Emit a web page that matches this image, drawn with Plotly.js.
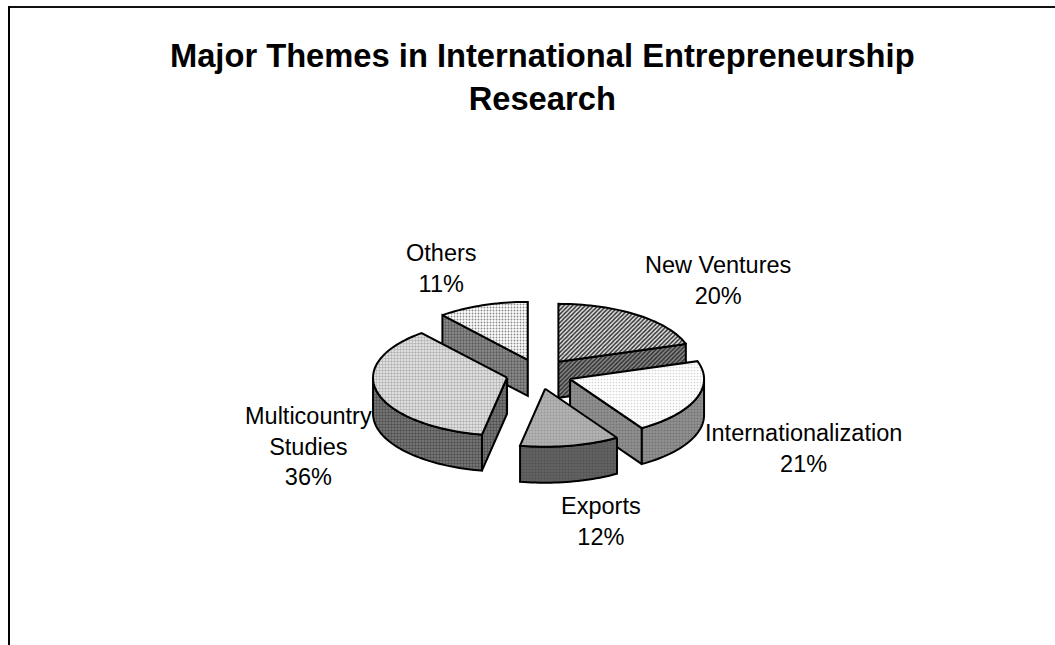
<!DOCTYPE html>
<html>
<head>
<meta charset="utf-8">
<script src="https://cdn.plot.ly/plotly-3.0.1.min.js"></script>
<style>html,body{margin:0;padding:0;background:#fff;overflow:hidden}#chart{width:1055px;height:645px}</style>
</head>
<body>
<div id="chart"></div>
<script>
// Share of research per theme, in percent
const categories = ["New Ventures", "Internationalization", "Exports", "Multicountry Studies", "Others"];
const shares = [20, 21, 12, 36, 11];

// Projection of the tilted disc, in page pixels
const centre = {x: 539, y: 374};
const radiusX = 134, radiusY = 58, depth = 36;
const explodeX = 33, explodeY = 15;

// Fill of each slice: top face and side walls
const topStyle = [
  {shape: "/", bgcolor: "#e8e8e8", fgcolor: "#303030", size: 3, solidity: 0.5},
  {shape: ".", bgcolor: "#ffffff", fgcolor: "#d4d4d4", size: 3, solidity: 0.25},
  {shape: ".", bgcolor: "#b4b4b4", fgcolor: "#9a9a9a", size: 3, solidity: 0.4},
  {shape: ".", bgcolor: "#eeeeee", fgcolor: "#b0b0b0", size: 3, solidity: 0.5},
  {shape: ".", bgcolor: "#ffffff", fgcolor: "#8a8a8a", size: 3, solidity: 0.3}
];
const wallStyle = [
  {shape: "/", bgcolor: "#8c8c8c", fgcolor: "#303030", size: 3, solidity: 0.5},
  {shape: ".", bgcolor: "#929292", fgcolor: "#747474", size: 3, solidity: 0.4},
  {shape: ".", bgcolor: "#646464", fgcolor: "#505050", size: 3, solidity: 0.4},
  {shape: ".", bgcolor: "#808080", fgcolor: "#4e4e4e", size: 3, solidity: 0.5},
  {shape: ".", bgcolor: "#909090", fgcolor: "#5a5a5a", size: 3, solidity: 0.45}
];

// Back slices are painted first so nearer slices overlap them
const paintOrder = [4, 0, 3, 1, 2];

const total = shares.reduce((a, b) => a + b, 0);
let running = 0;
const slices = shares.map((v, i) => {
  const from = running / total * 2 * Math.PI;
  running += v;
  const to = running / total * 2 * Math.PI;
  const mid = (from + to) / 2;
  return {
    i, from, to,
    cx: centre.x + explodeX * Math.sin(mid),
    cy: centre.y - explodeY * Math.cos(mid)
  };
});

function rim(s, a, b, drop) {
  const xs = [], ys = [];
  const steps = Math.max(2, Math.ceil((b - a) / 0.03));
  for (let k = 0; k <= steps; k++) {
    const t = a + (b - a) * k / steps;
    xs.push(s.cx + radiusX * Math.sin(t));
    ys.push(s.cy - radiusY * Math.cos(t) + drop);
  }
  return {xs, ys};
}

function polygon(xs, ys, pattern, name) {
  return {
    type: "scatter", mode: "lines", x: xs, y: ys, name,
    fill: "toself", fillcolor: pattern.bgcolor, fillpattern: pattern,
    line: {color: "#000000", width: 2, simplify: false},
    hoverinfo: "name", showlegend: false
  };
}

function radialWall(s, angle, style, name) {
  const ex = s.cx + radiusX * Math.sin(angle);
  const ey = s.cy - radiusY * Math.cos(angle);
  return polygon(
    [s.cx, ex, ex, s.cx, s.cx],
    [s.cy, ey, ey + depth, s.cy + depth, s.cy],
    style, name
  );
}

const traces = [];
paintOrder.forEach(idx => {
  const s = slices[idx];
  const name = categories[idx];
  const wall = wallStyle[idx];

  // Cut faces are visible only when they turn toward the viewer
  if (-Math.sin(s.from) > 1e-6) traces.push(radialWall(s, s.from, wall, name));
  if (Math.sin(s.to) > 1e-6) traces.push(radialWall(s, s.to, wall, name));

  // Outer wall covers the near half of the disc only
  const a = Math.max(s.from, Math.PI / 2), b = Math.min(s.to, 3 * Math.PI / 2);
  if (b > a) {
    const upper = rim(s, a, b, 0), lower = rim(s, a, b, depth);
    traces.push(polygon(
      upper.xs.concat(lower.xs.slice().reverse(), [upper.xs[0]]),
      upper.ys.concat(lower.ys.slice().reverse(), [upper.ys[0]]),
      wall, name
    ));
  }

  // Top face
  const top = rim(s, s.from, s.to, 0);
  traces.push(polygon(
    [s.cx].concat(top.xs, [s.cx]),
    [s.cy].concat(top.ys, [s.cy]),
    topStyle[idx], name
  ));
});

function sliceLabel(i) {
  const parts = categories[i] === "Multicountry Studies" ? ["Multicountry", "Studies"] : [categories[i]];
  return parts.concat([shares[i] + "%"]).join("<br>");
}

// Label centres on the page
const labelCentres = [[718, 280], [803, 448], [601, 521], [308, 446], [441, 268]];

const layout = {
  width: 1055, height: 645,
  margin: {l: 0, r: 0, t: 0, b: 0},
  paper_bgcolor: "#ffffff", plot_bgcolor: "#ffffff",
  showlegend: false,
  font: {family: "'Liberation Sans', Arial, sans-serif", color: "#000000"},
  title: {
    text: "Major Themes in International Entrepreneurship<br>Research",
    font: {family: "'Liberation Sans', Arial, sans-serif", size: 32.7, weight: 700, color: "#000000"},
    x: 0.514, xanchor: "center", xref: "paper",
    y: 0.896, yanchor: "middle", yref: "container"
  },
  xaxis: {range: [0, 1055], visible: false, fixedrange: true},
  yaxis: {range: [645, 0], visible: false, fixedrange: true},
  annotations: labelCentres.map((p, i) => ({
    x: p[0], y: p[1], xref: "x", yref: "y",
    text: sliceLabel(i), showarrow: false, align: "center",
    xanchor: "center", yanchor: "middle",
    font: {size: 23.5, color: "#000000"}
  })),
  shapes: [
    {type: "line", xref: "x", yref: "y", x0: 8, y0: 7, x1: 1055, y1: 7, line: {color: "#111111", width: 2}},
    {type: "line", xref: "x", yref: "y", x0: 9, y0: 6, x1: 9, y1: 645, line: {color: "#000000", width: 2}}
  ]
};

Plotly.newPlot("chart", traces, layout, {displayModeBar: false, staticPlot: true});
</script>
</body>
</html>
